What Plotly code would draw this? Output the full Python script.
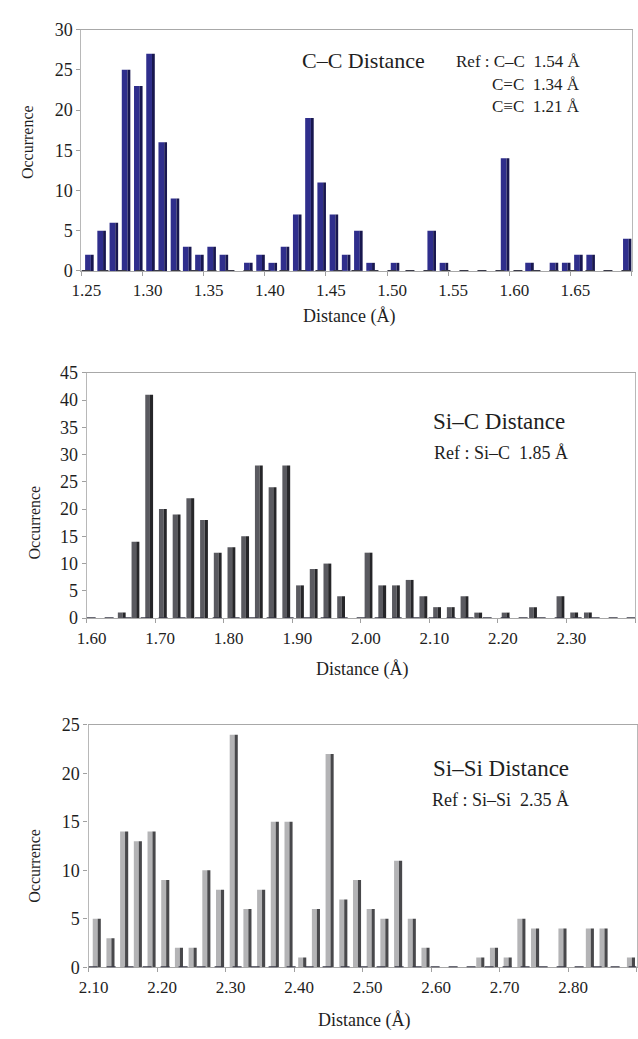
import plotly.graph_objects as go

W, H = 638, 1039

# ---------------- data ----------------
cc_bins = [1.25, 1.26, 1.27, 1.28, 1.29, 1.30, 1.31, 1.32, 1.33, 1.34,
           1.35, 1.36, 1.37, 1.38, 1.39, 1.40, 1.41, 1.42, 1.43, 1.44,
           1.45, 1.46, 1.47, 1.48, 1.49, 1.50, 1.51, 1.52, 1.53, 1.54,
           1.55, 1.56, 1.57, 1.58, 1.59, 1.60, 1.61, 1.62, 1.63, 1.64,
           1.65, 1.66, 1.67, 1.68, 1.69]
cc_counts = [2, 5, 6, 25, 23, 27, 16, 9, 3, 2,
             3, 2, 0, 1, 2, 1, 3, 7, 19, 11,
             7, 2, 5, 1, 0, 1, 0, 0, 5, 1,
             0, 0, 0, 0, 14, 0, 1, 0, 1, 1,
             2, 2, 0, 0, 4]
cc_ticks = [1.25, 1.30, 1.35, 1.40, 1.45, 1.50, 1.55, 1.60, 1.65, 1.70]
cc_ticklabels = ["1.25", "1.30", "1.35", "1.40", "1.45", "1.50", "1.55", "1.60", "1.65", ""]

sic_bins = [1.60, 1.62, 1.64, 1.66, 1.68, 1.70, 1.72, 1.74, 1.76, 1.78,
            1.80, 1.82, 1.84, 1.86, 1.88, 1.90, 1.92, 1.94, 1.96, 1.98,
            2.00, 2.02, 2.04, 2.06, 2.08, 2.10, 2.12, 2.14, 2.16, 2.18,
            2.20, 2.22, 2.24, 2.26, 2.28, 2.30, 2.32, 2.34, 2.36, 2.38]
sic_counts = [0, 0, 1, 14, 41, 20, 19, 22, 18, 12,
              13, 15, 28, 24, 28, 6, 9, 10, 4, 0,
              12, 6, 6, 7, 4, 2, 2, 4, 1, 0,
              1, 0, 2, 0, 4, 1, 1, 0, 0, 0]
sic_ticks = [1.60, 1.70, 1.80, 1.90, 2.00, 2.10, 2.20, 2.30, 2.40]
sic_ticklabels = ["1.60", "1.70", "1.80", "1.90", "2.00", "2.10", "2.20", "2.30", ""]

sisi_bins = [2.10, 2.12, 2.14, 2.16, 2.18, 2.20, 2.22, 2.24, 2.26, 2.28,
             2.30, 2.32, 2.34, 2.36, 2.38, 2.40, 2.42, 2.44, 2.46, 2.48,
             2.50, 2.52, 2.54, 2.56, 2.58, 2.60, 2.62, 2.64, 2.66, 2.68,
             2.70, 2.72, 2.74, 2.76, 2.78, 2.80, 2.82, 2.84, 2.86, 2.88]
sisi_counts = [5, 3, 14, 13, 14, 9, 2, 2, 10, 8,
               24, 6, 8, 15, 15, 1, 6, 22, 7, 9,
               6, 5, 11, 5, 2, 0, 0, 0, 1, 2,
               1, 5, 4, 0, 4, 0, 4, 4, 0, 1]
sisi_ticks = [2.10, 2.20, 2.30, 2.40, 2.50, 2.60, 2.70, 2.80, 2.90]
sisi_ticklabels = ["2.10", "2.20", "2.30", "2.40", "2.50", "2.60", "2.70", "2.80", ""]

# ---------------- layout helpers ----------------
def px_x(p):
    return p / W

def px_y(p):
    return 1 - p / H

FONT = "Liberation Serif"
TXT = "#1e1e1e"

panels = [
    dict(bins=cc_bins, counts=cc_counts, ticks=cc_ticks, labels=cc_ticklabels,
         xr=[1.25, 1.70], yr=[0, 30], ydt=5,
         xdom=[72.7, 632.5], ydom=[20, 266],
         off=0.003, wf=0.0047, ws=0.0023,
         cf="#2f2e8c", cs="#18174f"),
    dict(bins=sic_bins, counts=sic_counts, ticks=sic_ticks, labels=sic_ticklabels,
         xr=[1.60, 2.40], yr=[0, 45], ydt=5,
         xdom=[78, 636], ydom=[370, 620],
         off=0.0055, wf=0.0068, ws=0.0046,
         cf="#5a5a60", cs="#262629"),
    dict(bins=sisi_bins, counts=sisi_counts, ticks=sisi_ticks, labels=sisi_ticklabels,
         xr=[2.10, 2.90], yr=[0, 25], ydt=5,
         xdom=[80, 637.5], ydom=[729, 976],
         off=0.006, wf=0.0072, ws=0.0046,
         cf="#b4b4b6", cs="#48484b"),
]

fig = go.Figure()
layout = dict(
    width=W, height=H, autosize=False,
    margin=dict(l=0, r=0, t=0, b=0),
    paper_bgcolor="white", plot_bgcolor="white",
    showlegend=False, barmode="overlay",
    font=dict(family=FONT, color=TXT),
)
shapes = []
for i, p in enumerate(panels):
    n = "" if i == 0 else str(i + 1)
    xa, ya = "x" + n, "y" + n
    fig.add_trace(go.Bar(x=p["bins"], y=p["counts"], xaxis=xa, yaxis=ya,
                         offset=p["off"], width=p["wf"],
                         marker=dict(color=p["cf"], line=dict(width=0)),
                         hoverinfo="x+y"))
    fig.add_trace(go.Bar(x=p["bins"], y=p["counts"], xaxis=xa, yaxis=ya,
                         offset=p["off"] + p["wf"], width=p["ws"],
                         marker=dict(color=p["cs"], line=dict(width=0)),
                         hoverinfo="skip"))
    # dashed zero baseline drawn over the axis line
    shapes.append(dict(type="line", xref=xa, yref=ya, x0=p["xr"][0], x1=p["xr"][1],
                       y0=0, y1=0, line=dict(color="#3a3a48", width=1.8, dash="dash"),
                       layer="above"))
    layout["xaxis" + n] = dict(
        domain=[px_x(p["xdom"][0]), px_x(p["xdom"][1])], anchor=ya,
        range=p["xr"], tickmode="array", tickvals=p["ticks"], ticktext=p["labels"],
        showgrid=False, zeroline=False, showline=True, linecolor="#a8a8a8",
        linewidth=1.3, mirror=True, ticks="outside", ticklen=4, tickcolor="#a0a0a0",
        ticklabelshift=5,
        tickfont=dict(family=FONT, size=17, color=TXT),
    )
    layout["yaxis" + n] = dict(
        domain=[px_y(p["ydom"][1]), px_y(p["ydom"][0])], anchor=xa,
        range=p["yr"], dtick=p["ydt"], tick0=0,
        showgrid=False, zeroline=False, showline=True, linecolor="#b8b8b8",
        linewidth=1.3, mirror=True, ticks="outside", ticklen=4, tickcolor="#a0a0a0",
        tickfont=dict(family=FONT, size=18, color=TXT),
    )

layout["shapes"] = shapes

NB = "\u00a0"
ann = []
def add_text(txt, x, y, size, xanchor="center", angle=0):
    ann.append(dict(text=txt, x=px_x(x), y=px_y(y), xref="paper", yref="paper",
                    xanchor=xanchor, yanchor="middle", showarrow=False,
                    textangle=angle, font=dict(family=FONT, size=size, color=TXT)))

# axis titles
add_text("Distance (Å)", 345, 313, 18)
add_text("Distance (Å)", 358, 672, 18)
add_text("Distance (Å)", 360, 1030, 18)
add_text("Occurrence", 18, 135, 16, angle=-90)
add_text("Occurrence", 25, 523, 16, angle=-90)
add_text("Occurrence", 25, 873, 16, angle=-90)

# panel labels
add_text("C–C Distance", 360, 52, 22)
add_text("Ref" + NB + ":" + NB + "C–C" + NB + NB + "1.54" + NB + "Å", 582, 53, 17, xanchor="right")
add_text("C=C" + NB + NB + "1.34" + NB + "Å", 582, 76, 17, xanchor="right")
add_text("C≡C" + NB + NB + "1.21" + NB + "Å", 582, 98, 17, xanchor="right")
add_text("Si–C Distance", 498, 420, 23)
add_text("Ref" + NB + ":" + NB + "Si–C" + NB + NB + "1.85" + NB + "Å", 500, 452, 18)
add_text("Si–Si Distance", 500, 773, 23)
add_text("Ref" + NB + ":" + NB + "Si–Si" + NB + NB + "2.35" + NB + "Å", 499, 805, 18)
layout["annotations"] = ann

fig.update_layout(**layout)
fig.write_html("out.html", config=dict(displayModeBar=False),
               post_script="document.body.style.margin='0';")
